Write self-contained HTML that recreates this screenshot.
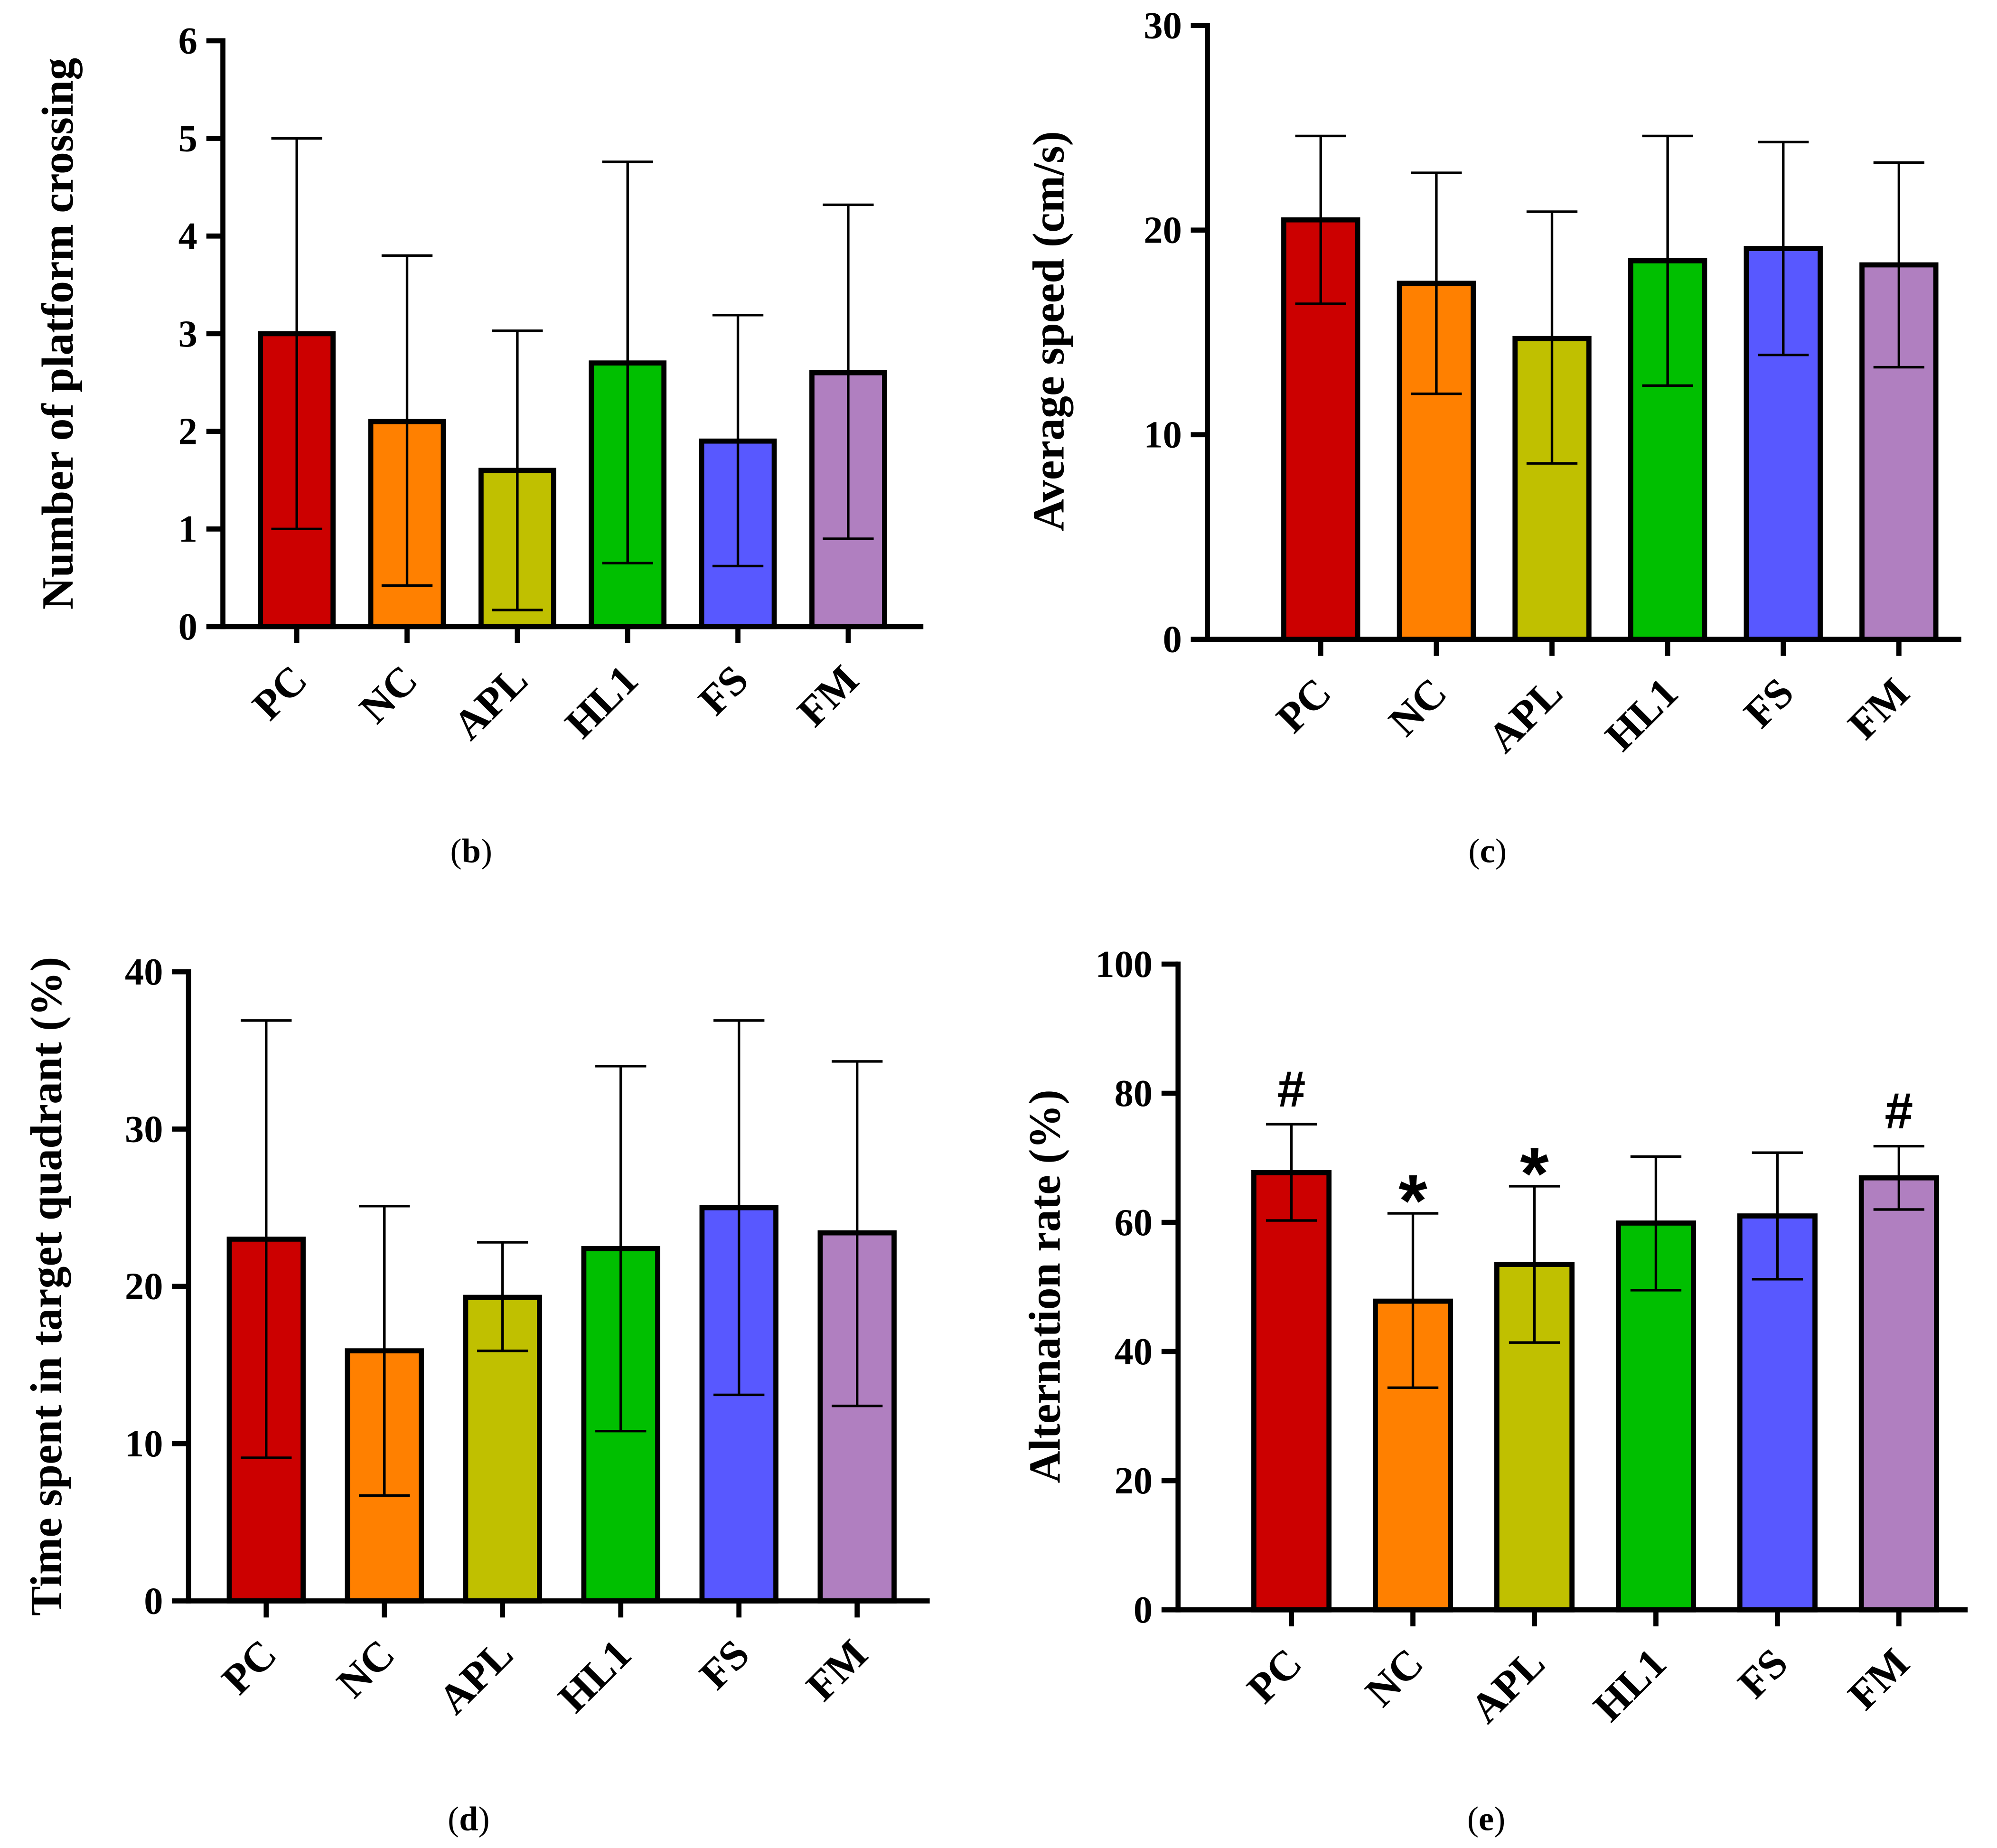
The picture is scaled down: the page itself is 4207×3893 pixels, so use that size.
<!DOCTYPE html>
<html><head><meta charset="utf-8">
<style>
html,body{margin:0;padding:0;background:#fff;}
svg{display:block;font-family:"Liberation Serif",serif;font-weight:bold;}
</style></head>
<body>
<svg id="fig" width="4207" height="3893" viewBox="0 0 1568 1451" xmlns="http://www.w3.org/2000/svg"></svg>
<script>
const categories = ["PC","NC","APL","HL1","FS","FM"];
const colors = ["#cc0000","#ff8000","#c0c000","#00bf00","#5858ff","#b07fc0"];

const bMeans = [3.0, 2.1, 1.6, 2.7, 1.9, 2.6];
const bLow   = [1.0, 0.42, 0.17, 0.65, 0.62, 0.9];
const bHigh  = [5.0, 3.8, 3.03, 4.76, 3.19, 4.32];
const bTicks = [0,1,2,3,4,5,6];

const cMeans = [20.5, 17.4, 14.7, 18.5, 19.1, 18.3];
const cLow   = [16.4, 12.0, 8.6, 12.4, 13.9, 13.3];
const cHigh  = [24.6, 22.8, 20.9, 24.6, 24.3, 23.3];
const cTicks = [0,10,20,30];

const dMeans = [23.0, 15.9, 19.3, 22.4, 25.0, 23.4];
const dLow   = [9.1, 6.7, 15.9, 10.8, 13.1, 12.4];
const dHigh  = [36.9, 25.1, 22.8, 34.0, 36.9, 34.3];
const dTicks = [0,10,20,30,40];

const eMeans = [67.7, 47.8, 53.5, 59.9, 61.0, 66.9];
const eLow   = [60.3, 34.4, 41.4, 49.5, 51.2, 62.0];
const eHigh  = [75.2, 61.4, 65.6, 70.2, 70.8, 71.8];
const eTicks = [0,20,40,60,80,100];
const eMarks = ["#","*","*","","","#"];

const NS = "http://www.w3.org/2000/svg";
const svg = document.getElementById("fig");
function mk(tag, attrs, parent, text){
  const el = document.createElementNS(NS, tag);
  for (const k in attrs) el.setAttribute(k, attrs[k]);
  if (text !== undefined) el.textContent = text;
  (parent||svg).appendChild(el);
  return el;
}

function panel(id, cfg, means, low, high, ticks, marks){
  const g = mk("g", {});
  
  
  const yMax = ticks[ticks.length-1];
  const y = v => cfg.y0 - (v / yMax) * (cfg.y0 - cfg.yTop);
  const x = i => cfg.c0 + i * cfg.step;
  means.forEach((m,i)=>{
    const r = mk("rect", {x: x(i)-cfg.bw/2, y: y(m), width: cfg.bw, height: cfg.y0 - y(m),
      fill: colors[i], stroke:"#000", "stroke-width":4}, g);
    
    
    const eg = mk("g", {stroke:"#000","stroke-width":2}, g);
    
    
    mk("line", {x1:x(i), x2:x(i), y1:y(low[i]), y2:y(high[i])}, eg);
    mk("line", {x1:x(i)-20, x2:x(i)+20, y1:y(low[i]), y2:y(low[i])}, eg);
    mk("line", {x1:x(i)-20, x2:x(i)+20, y1:y(high[i]), y2:y(high[i])}, eg);
    if (marks && marks[i]) {
      const t = mk("text", {x:x(i), y: y(high[i]) - (marks[i]==="*"?-10:14), "text-anchor":"middle",
        "font-size": marks[i]==="*"?58:40, "font-family":"Liberation Sans, sans-serif"}, g, marks[i]);
      
      
    }
    mk("line", {x1:x(i), x2:x(i), y1:cfg.y0, y2:cfg.y0+13, stroke:"#000","stroke-width":4}, g);
    const lx = x(i)+10, ly = cfg.y0+44;
    const lt = mk("text", {x:lx, y:ly, "text-anchor":"end", "font-size":33,
      transform:`rotate(-45 ${lx} ${ly})`}, g, categories[i]);
    
    
  });
  const ya = mk("line", {x1:cfg.ax, x2:cfg.ax, y1:cfg.yTop-2, y2:cfg.y0+2, stroke:"#000","stroke-width":4}, g);
  
  
  const xa = mk("line", {x1:cfg.ax, x2:cfg.xEnd, y1:cfg.y0, y2:cfg.y0, stroke:"#000","stroke-width":4}, g);
  
  
  ticks.forEach(t=>{
    mk("line", {x1:cfg.ax-13, x2:cfg.ax, y1:y(t), y2:y(t), stroke:"#000","stroke-width":4}, g);
    const tl = mk("text", {x:cfg.ax-20, y:y(t)+10, "text-anchor":"end","font-size":30}, g, String(t));
    
    
  });
  const yt = mk("text", {x:cfg.labX, y:cfg.labY, "text-anchor":"middle","font-size":35,
    transform:`rotate(-90 ${cfg.labX} ${cfg.labY})`}, g, cfg.title);
  
  
  const pl = mk("text", {x:cfg.pX, y:cfg.pY, "text-anchor":"middle","font-size":27,"font-weight":"normal"}, g);
  
  
  mk("tspan", {}, pl, "(");
  mk("tspan", {"font-weight":"bold"}, pl, id);
  mk("tspan", {}, pl, ")");
}

panel("b", {ax:175, xEnd:725, yTop:32, y0:492, c0:233, step:86.6, bw:57, labX:57, labY:262,
  title:"Number of platform crossing", pX:370, pY:677}, bMeans, bLow, bHigh, bTicks);
panel("c", {ax:948, xEnd:1540, yTop:20, y0:502, c0:1037, step:90.8, bw:58, labX:835, labY:260,
  title:"Average speed (cm/s)", pX:1168, pY:677}, cMeans, cLow, cHigh, cTicks);
panel("d", {ax:148, xEnd:730, yTop:763, y0:1257, c0:209, step:92.8, bw:58, labX:48, labY:1010,
  title:"Time spent in target quadrant (%)", pX:368, pY:1437}, dMeans, dLow, dHigh, dTicks);
panel("e", {ax:925, xEnd:1545, yTop:757, y0:1264, c0:1014, step:95.4, bw:59, labX:832, labY:1010,
  title:"Alternation rate (%)", pX:1167, pY:1437}, eMeans, eLow, eHigh, eTicks, eMarks);
</script>
</body></html>
